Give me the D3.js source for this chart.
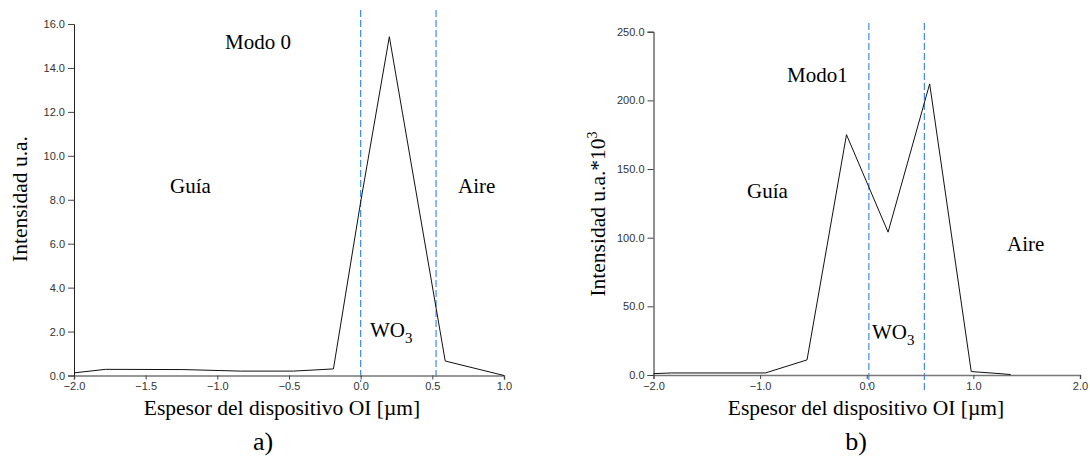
<!DOCTYPE html>
<html><head><meta charset="utf-8">
<script src="https://cdn.jsdelivr.net/npm/d3@7"></script>
<style>body{margin:0;background:#fff}svg{display:block}</style>
</head><body>
<script>
// Panel a) Modo 0
const xA = [-2.0, -1.78, -1.24, -0.84, -0.47, -0.19, 0.0, 0.2, 0.59, 1.0];
const yA = [0.12, 0.28, 0.27, 0.2, 0.2, 0.3, 7.9, 15.42, 0.66, 0.0];
const xTicksA = [-2.0, -1.5, -1.0, -0.5, 0.0, 0.5, 1.0];
const yTicksA = [0, 2, 4, 6, 8, 10, 12, 14, 16];
const vLinesA = [0.0, 0.526];
// Panel b) Modo1
const xB = [-2.0, -1.83, -0.95, -0.56, -0.19, 0.2, 0.59, 0.98, 1.25, 1.35];
const yB = [1.0, 1.5, 1.5, 11, 175, 104, 212, 2.5, 1.0, 0.3];
const xTicksB = [-2.0, -1.0, 0.0, 1.0, 2.0];
const yTicksB = [0, 50, 100, 150, 200, 250];
const vLinesB = [0.02, 0.54];

const W = 1090, H = 457;
const svg = d3.select("body").append("svg").attr("width", W).attr("height", H);
const serif = "'Liberation Serif','Times New Roman',serif";
const sans = "'Liberation Sans',Arial,sans-serif";

function panel(o) {
  const x = d3.scaleLinear().domain(o.xDom).range([o.x0, o.x1]);
  const y = d3.scaleLinear().domain(o.yDom).range([o.yb, o.yt]);
  const g = svg.append("g");
  o.vLines.forEach((v, i) => {
    g.append("line").attr("x1", x(v)).attr("x2", x(v))
      .attr("y1", o.vTop).attr("y2", o.vBot[i])
      .attr("stroke", "#2f7ff5").attr("stroke-width", 1.1)
      .attr("stroke-dasharray", "7,3");
  });
  const xa = g.append("g").attr("transform", `translate(0,${o.yb})`)
    .call(d3.axisBottom(x).tickValues(o.xTicks).tickFormat(d3.format(".1f")).tickSize(4).tickPadding(3));
  xa.select(".domain").attr("stroke", "#777").attr("stroke-width", 1.5);
  xa.selectAll(".tick line").attr("stroke", "#444");
  xa.selectAll("text").attr("font-family", sans).attr("font-size", 11).attr("fill", "#333");
  const ya = g.append("g").attr("transform", `translate(${o.x0},0)`)
    .call(d3.axisLeft(y).tickValues(o.yTicks).tickFormat(d3.format(".1f")).tickSize(6).tickPadding(3));
  ya.select(".domain").attr("stroke", "#222");
  ya.selectAll(".tick line").attr("stroke", "#444");
  ya.selectAll("text").attr("font-family", sans).attr("font-size", 11).attr("fill", "#333");
  const pts = o.xs.map((v, i) => [v, o.ys[i]]);
  g.append("path").datum(pts)
    .attr("d", d3.line().x(d => x(d[0])).y(d => y(d[1])))
    .attr("fill", "none").attr("stroke", "#111").attr("stroke-width", 1);
  o.labels.forEach(l => {
    const t = g.append("text").attr("x", l.x).attr("y", l.y)
      .attr("font-family", serif).attr("font-size", l.size || 21)
      .attr("text-anchor", l.anchor || "start").attr("fill", "#000");
    t.text(l.t);
    if (l.sub) t.append("tspan").attr("font-size", 15).attr("dy", 6).text(l.sub);
  });
  g.append("text").attr("x", o.xTitle[0]).attr("y", o.xTitle[1])
    .attr("text-anchor", "middle").attr("font-family", serif).attr("font-size", 21.5)
    .text("Espesor del dispositivo OI [µm]");
  const yt = g.append("text")
    .attr("transform", `translate(${o.yTitle[0]},${o.yTitle[1]}) rotate(-90)`)
    .attr("text-anchor", "middle").attr("font-family", serif).attr("font-size", 21.5)
    .text(o.yTitleText);
  if (o.yTitleSup) yt.append("tspan").attr("font-size", 14).attr("dy", -8).text(o.yTitleSup);
  g.append("text").attr("x", o.letter[0]).attr("y", o.letter[1])
    .attr("text-anchor", "middle").attr("font-family", serif).attr("font-size", 26)
    .text(o.letterText);
}

panel({
  xDom: [-2, 1], yDom: [0, 16], x0: 74, x1: 504, yb: 375.5, yt: 24,
  xs: xA, ys: yA, xTicks: xTicksA, yTicks: yTicksA,
  vLines: vLinesA, vTop: 10, vBot: [382, 380],
  labels: [
    {t: "Modo 0", x: 225, y: 49},
    {t: "Guía", x: 170, y: 193},
    {t: "Aire", x: 458, y: 193},
    {t: "WO", sub: "3", x: 370, y: 337}
  ],
  xTitle: [282, 415], yTitle: [27, 199], yTitleText: "Intensidad u.a.",
  letter: [263, 450], letterText: "a)"
});

panel({
  xDom: [-2, 2], yDom: [0, 250], x0: 653.5, x1: 1080, yb: 375, yt: 31.7,
  xs: xB, ys: yB, xTicks: xTicksB, yTicks: yTicksB,
  vLines: vLinesB, vTop: 23, vBot: [386, 391],
  labels: [
    {t: "Modo1", x: 787, y: 82},
    {t: "Guía", x: 747, y: 198},
    {t: "Aire", x: 1007, y: 251},
    {t: "WO", sub: "3", x: 872, y: 339}
  ],
  xTitle: [866, 415], yTitle: [605, 214], yTitleText: "Intensidad u.a.*10", yTitleSup: "3",
  letter: [856, 450], letterText: "b)"
});
</script>
</body></html>
